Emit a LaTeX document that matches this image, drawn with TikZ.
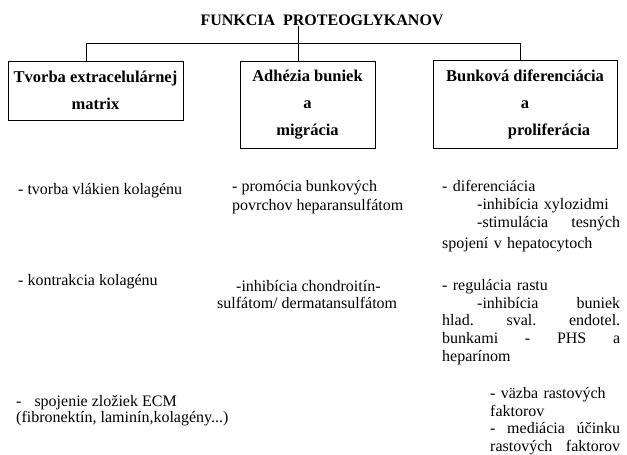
\documentclass[tikz,border=0pt]{standalone}
\usepackage{fontspec}
\setmainfont{Liberation Serif}
\usetikzlibrary{positioning}
\tikzset{
    headbox/.style={draw, line width=0.8pt, inner sep=0pt, align=center,
        font=\bfseries\fontsize{16.5}{27}\selectfont},
    heading/.style={inner sep=0pt, font=\bfseries\fontsize{16}{19}\selectfont},
    note/.style={inner sep=0pt, anchor=north west, align=left,
        font=\fontsize{16}{18}\selectfont},
    link/.style={line width=0.8pt},
}

\begin{document}
\begin{tikzpicture}[x=1pt, y=-1pt]
            \useasboundingbox (0,0) rectangle (627,455);

            % Title
            \node[heading] (title) at (322,20) {FUNKCIA\ \ PROTEOGLYKANOV};

            % Main functions
            \node[headbox, minimum width=175, minimum height=59] (matrix) at (95.5,90.5) {Tvorba extracelulárnej\\matrix};
            \node[headbox, minimum width=135, minimum height=87] (adhesion) at (307.5,104.5) {Adhézia buniek\\a\\migrácia};
            \node[headbox, minimum width=184, minimum height=88] (differ) at (525,104) {Bunková diferenciácia\\a\\\hspace*{48pt}proliferácia};

            % Relationships
            \coordinate (jl) at (86,43);
            \coordinate (jm) at (298,43);
            \coordinate (jr) at (520,43);
            \draw[link] (jl |- matrix.north) -- (jl) -- (jr) -- (jr |- differ.north);
            \draw[link] (jm |- title.south) -- (jm |- adhesion.north);

            % Left column
            \node[note] (tvorba) at (18,183) {- tvorba vlákien kolagénu};
            \node[note] (kontrakcia) at (18,274) {- kontrakcia kolagénu};
            \node[note, font=\fontsize{16}{16.5}\selectfont] (spojenie) at (16,395) {-\hspace{13pt}spojenie zložiek ECM\\(fibronektín, laminín,kolagény...)};

            % Middle column
            \node[note, font=\fontsize{16}{19}\selectfont] (promocia) at (232,180) {- promócia bunkových\\povrchov heparansulfátom};
            \node[note, font=\fontsize{16}{17.5}\selectfont] (inhibicia) at (217,280) {\hspace*{19pt}-inhibícia chondroitín-\\sulfátom/ dermatansulfátom};

            % Right column
            \node[note, text width=178] (diferenciacia) at (442,180) {- diferenciácia\\\hspace*{35pt}-inhibícia xylozidmi\\\hspace*{35pt}-stimulácia\hfill tesných\\[3pt]spojení v hepatocytoch};
            \node[note, font=\fontsize{16}{17.8}\selectfont, text width=178] (regulacia) at (442,279) {- regulácia rastu\\\hspace*{35pt}-inhibícia\hfill buniek\\hlad.\hfill sval.\hfill endotel.\\bunkami\hfill -\hfill PHS\hfill a\\heparínom};
            \node[note, font=\fontsize{16}{17.7}\selectfont, text width=130] (vazba) at (490,387) {- väzba rastových\\faktorov\\-\hfill mediácia\hfill účinku\\rastových\hfill faktorov};

        \end{tikzpicture}
\end{document}
